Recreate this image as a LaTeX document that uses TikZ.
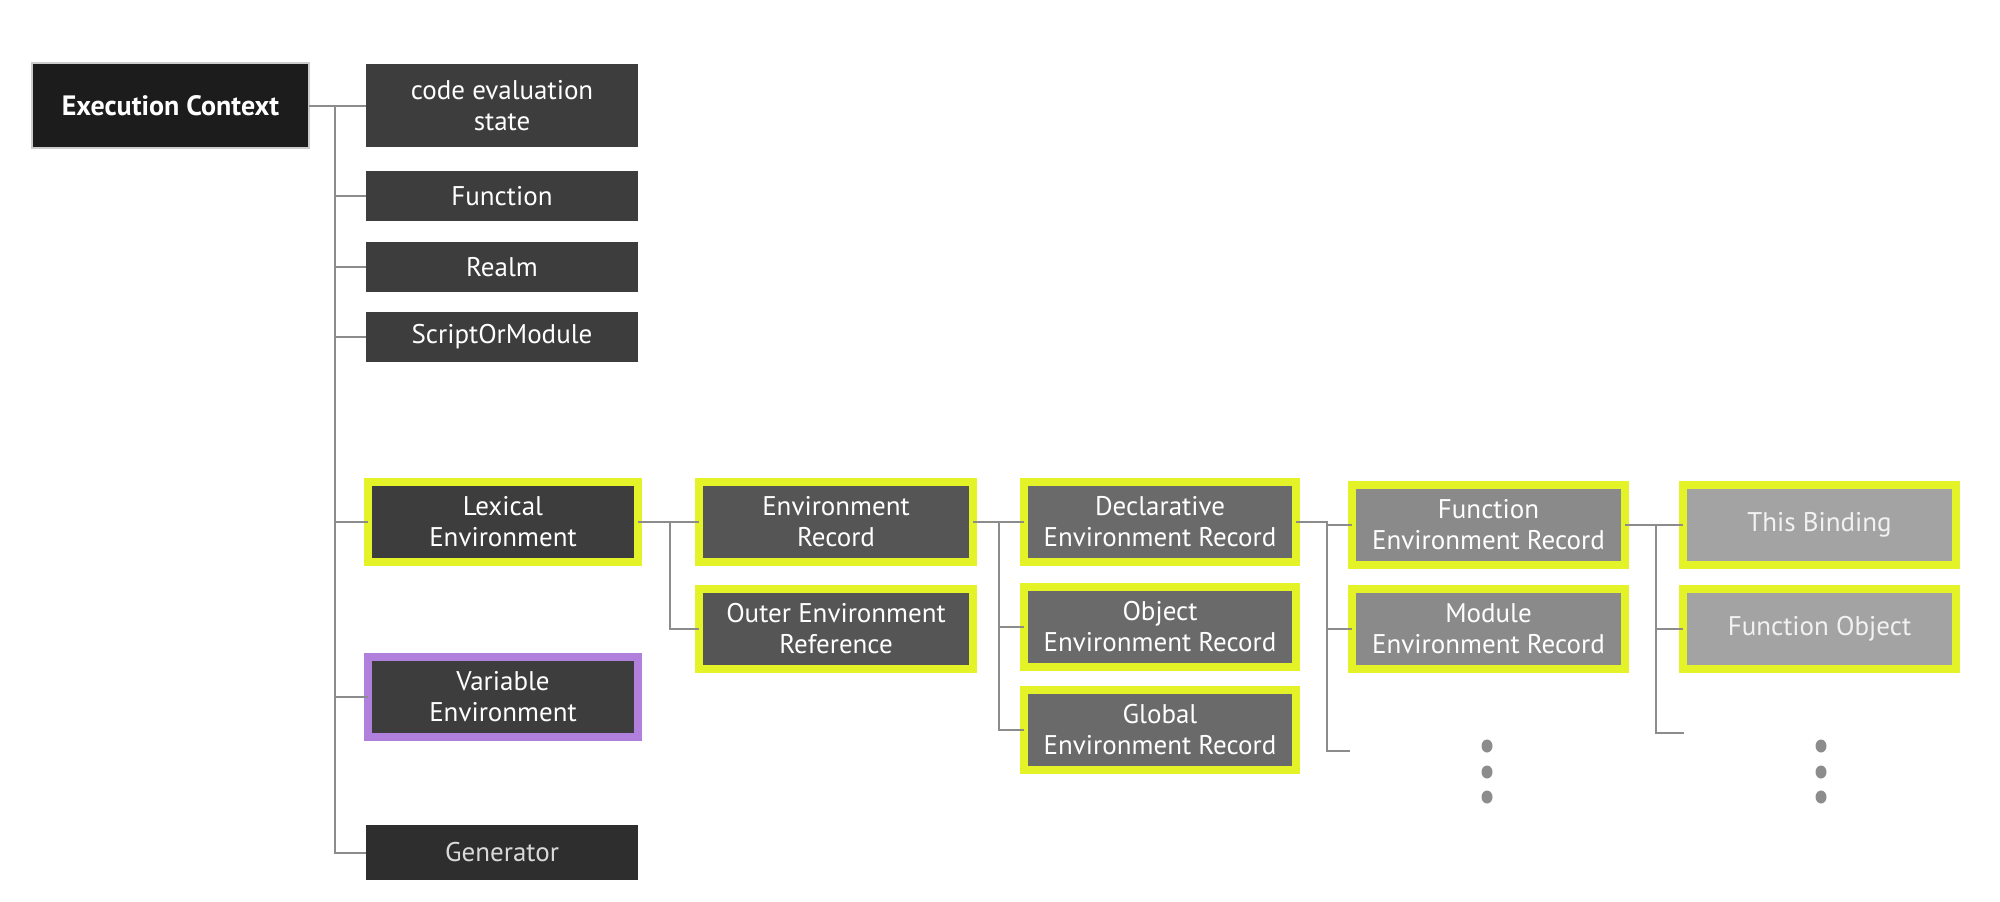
\documentclass[tikz,border=0pt]{standalone}
\usepackage{fontspec}
\setmainfont{PT Sans}
\usetikzlibrary{shapes.geometric}
\begin{document}
\begin{tikzpicture}[x=1pt,y=-1pt,
  box/.style={draw=none,inner sep=0pt,outer sep=0pt,align=center,text=white,
    font=\fontsize{27}{31}\selectfont,minimum width=272pt},
  hl/.style={box,draw=hlyellow,line width=8pt,minimum width=272pt,minimum height=80pt},
  hlv/.style={box,draw=hlpurple,line width=8pt,minimum width=272pt,minimum height=80pt},
  link/.style={draw=linkgray,line width=2pt},
  dot/.style={fill=linkgray,draw=none,ellipse,minimum width=11pt,minimum height=13pt,inner sep=0pt}]
\definecolor{hlyellow}{HTML}{E4F228}
\definecolor{hlpurple}{HTML}{B080DC}
\definecolor{linkgray}{HTML}{8C8C8C}
\definecolor{rootfill}{HTML}{1C1C1C}
\definecolor{colA}{HTML}{3D3D3D}
\definecolor{colAd}{HTML}{2E2E2E}
\definecolor{colB}{HTML}{555555}
\definecolor{colC}{HTML}{6A6A6A}
\definecolor{colD}{HTML}{8A8A8A}
\definecolor{colE}{HTML}{A3A3A3}
\useasboundingbox[fill=white] (0,0) rectangle (2000,902);

% root
\node[box,fill=rootfill,draw=black!20,line width=1.5pt,minimum width=277pt,minimum height=85pt,
  font=\fontsize{28}{31}\selectfont\bfseries] (ec) at (170.5,105.5) {Execution Context};

% first level
\node[box,fill=colA,minimum height=83pt] (ces) at (502,105.5) {code evaluation\\state};
\node[box,fill=colA,minimum height=50pt] (fn) at (502,196) {Function};
\node[box,fill=colA,minimum height=50pt] (realm) at (502,267) {Realm};
\node[box,fill=colA,minimum height=50pt] (som) at (502,337) {ScriptOrModule};
\node[hl,fill=colA,minimum width=270pt] (le) at (503,522) {Lexical\\Environment};
\node[hlv,fill=colA,minimum width=270pt] (ve) at (503,697) {Variable\\Environment};
\node[box,fill=colAd,minimum height=55pt,text=white!85!black] (gen) at (502,852.5) {Generator};

% lexical environment parts
\node[hl,fill=colB,minimum width=274pt] (er) at (836,522) {Environment\\Record};
\node[hl,fill=colB,minimum width=274pt] (oer) at (836,629) {Outer Environment\\Reference};

% environment record kinds
\node[hl,fill=colC] (der) at (1160,522) {Declarative\\Environment Record};
\node[hl,fill=colC] (oenv) at (1160,627) {Object\\Environment Record};
\node[hl,fill=colC] (gER) at (1160,730) {Global\\Environment Record};

% declarative record kinds
\node[hl,fill=colD,minimum width=273pt] (fer) at (1488.5,525) {Function\\Environment Record};
\node[hl,fill=colD,minimum width=273pt] (mer) at (1488.5,629) {Module\\Environment Record};

% function environment record fields
\node[hl,fill=colE,minimum width=273pt,text=white!95!black] (tb) at (1819.5,525) {This Binding};
\node[hl,fill=colE,minimum width=273pt,text=white!95!black] (fo) at (1819.5,629) {Function Object};

% trailing dots
\foreach \y [count=\i] in {746,772,797} {
  \node[dot] (da\i) at (1487,\y) {};
  \node[dot] (db\i) at (1821,\y) {};
}

% connectors
\coordinate (trunk) at (335,105.5);
\draw[link] (ec.east) -- (ces.west);
\draw[link] (trunk) |- (gen.west);
\foreach \n in {fn,realm,som,le,ve} \draw[link] (trunk |- \n.west) -- (\n.west);

\coordinate (j2) at (670,522);
\draw[link] (le.east) -- (er.west);
\draw[link] (j2) |- (oer.west);

\coordinate (j3) at (999,522);
\draw[link] (er.east) -- (der.west);
\draw[link] (j3) |- (oenv.west);
\draw[link] (j3) |- (gER.west);

\coordinate (j4) at (1327,522);
\coordinate (more4) at (1350,751);
\draw[link] (der.east) -- (j4) |- (fer.west);
\draw[link] (j4) |- (mer.west);
\draw[link] (j4) |- (more4);

\coordinate (j5) at (1656,525);
\coordinate (more5) at (1684,733);
\draw[link] (fer.east) -- (tb.west);
\draw[link] (j5) |- (fo.west);
\draw[link] (j5) |- (more5);
\end{tikzpicture}
\end{document}
